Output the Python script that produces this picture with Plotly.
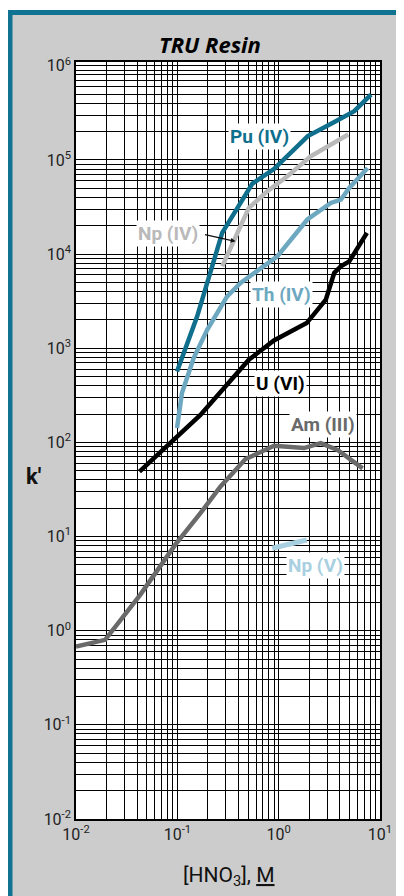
import plotly.graph_objects as go

# ---- data ----
am_x = [0.01, 0.0194, 0.043, 0.068, 0.0955, 0.169, 0.267, 0.471, 0.90, 1.78, 2.6, 3.81, 6.74]
am_y = [0.68, 0.80, 2.4, 4.8, 8.2, 17.7, 34, 66.5, 92, 87, 98, 83, 53]

u_x = [0.0423, 0.169, 0.508, 0.898, 1.89, 2.92, 3.53, 4.11, 4.97, 5.78, 7.43]
u_y = [49, 196, 755, 1210, 1850, 3270, 6300, 7400, 8350, 10700, 16800]

pu_x = [0.0993, 0.157, 0.277, 0.55, 0.898, 1.94, 3.4, 5.57, 8.15]
pu_y = [567, 2180, 16800, 56000, 80000, 179000, 247000, 329000, 494000]

np4_x = [0.277, 0.361, 0.508, 0.773, 1.22, 2.07, 4.86]
np4_y = [7400, 13600, 30900, 46400, 67000, 109000, 186000]

th_x = [0.0993, 0.111, 0.145, 0.197, 0.31, 0.421, 0.97, 1.92, 3.27, 4.11, 4.97, 7.55]
th_y = [142, 334, 787, 1570, 3560, 4930, 9460, 23300, 34900, 37800, 50400, 82200]

np5_x = [0.863, 1.89]
np5_y = [7.5, 9.2]

x_ticks = [0.01, 0.1, 1, 10]
x_ticktext = ["10<sup>-2</sup>", "10<sup>-1</sup>", "10<sup>0</sup>", "10<sup>1</sup>"]
y_ticks = [1e-2, 1e-1, 1, 10, 100, 1e3, 1e4, 1e5, 1e6]
y_ticktext = ["10<sup>-2</sup>", "10<sup>-1</sup>", "10<sup>0</sup>", "10<sup>1</sup>",
              "10<sup>2</sup>", "10<sup>3</sup>", "10<sup>4</sup>", "10<sup>5</sup>", "10<sup>6</sup>"]

# ---- styles ----
C_PU = "#0f6f8d"
C_TH = "#6da8c0"
C_NP4 = "#b9b9b9"
C_NP5 = "#a9d0e1"
C_AM = "#6a6a6a"
C_U = "#000000"
FRAME = "#0f7391"
GRAY = "#cccccc"
FONT = "Roboto"
GRID = "#000"

fig = go.Figure()
series = [
    (am_x, am_y, C_AM, 4.5),
    (u_x, u_y, C_U, 4.5),
    (th_x, th_y, C_TH, 4.5),
    (np4_x, np4_y, C_NP4, 4.5),
    (pu_x, pu_y, C_PU, 4.5),
    (np5_x, np5_y, C_NP5, 5),
]
for xs, ys, col, w in series:
    fig.add_trace(go.Scatter(x=xs, y=ys, mode="lines",
                             line=dict(color=col, width=w), showlegend=False,
                             hoverinfo="skip"))

minor_x = [k * 10.0 ** e for e in range(-2, 1) for k in range(2, 10)]
minor_y = [k * 10.0 ** e for e in range(-2, 6) for k in range(2, 10)] + [1.1e6]

fig.update_xaxes(type="log", range=[-2, 1.0],
                 tickvals=x_ticks, ticktext=x_ticktext,
                 showgrid=True, gridcolor=GRID, gridwidth=1.4,
                 minor=dict(tickvals=minor_x, showgrid=True, gridcolor=GRID, gridwidth=1.4),
                 showline=True, mirror=True, linecolor=GRID, linewidth=1.6,
                 ticks="", tickfont=dict(family=FONT, size=16, color="#222"),
                 zeroline=False)
fig.update_yaxes(type="log", range=[-2, 6.04],
                 tickvals=y_ticks, ticktext=y_ticktext,
                 showgrid=True, gridcolor=GRID, gridwidth=1.4,
                 minor=dict(tickvals=minor_y, showgrid=True, gridcolor=GRID, gridwidth=1.4),
                 showline=True, mirror=True, linecolor=GRID, linewidth=1.6,
                 ticks="", tickfont=dict(family=FONT, size=16, color="#222"),
                 zeroline=False)

shapes = [
    dict(type="rect", xref="paper", yref="paper", x0=-0.2171, x1=1.3, y0=-0.2, y1=1.0654,
         fillcolor=GRAY, line=dict(color=FRAME, width=5), layer="below"),
    dict(type="rect", xref="paper", yref="paper", x0=0, x1=1, y0=0, y1=1,
         fillcolor="white", line=dict(width=0), layer="below"),
]

def lab(text, xl, yl, col, size=19):
    return dict(text="<b>%s</b>" % text, x=xl, y=yl, xref="x", yref="y",
                xanchor="center", yanchor="middle",
                showarrow=False, bgcolor="white", borderpad=1,
                font=dict(family=FONT, size=size, color=col))

annotations = [
    lab("Pu (IV)", -0.188, 5.248, C_PU),
    lab("Np (IV)", -1.089, 4.217, C_NP4),
    lab("Th (IV)", 0.030, 3.569, C_TH),
    lab("U (VI)", 0.020, 2.623, C_U),
    lab("Am (III)", 0.436, 2.187, C_AM),
    lab("Np (V)", 0.366, 0.689, C_NP5),
    dict(text="", x=-0.426, y=4.135, xref="x", yref="y", showarrow=True,
         ax=-32, ay=-7, arrowhead=2, arrowsize=0.8, arrowwidth=1.2, arrowcolor="#111"),
    dict(text="<b><i>TRU Resin</i></b>", x=0.441, y=1.0238, xref="paper", yref="paper",
         xanchor="center", yanchor="middle",
         showarrow=False, font=dict(family="Open Sans", size=22, color="#000")),
    dict(text="<b>k'</b>", x=-0.1414, y=0.4518, xref="paper", yref="paper",
         xanchor="center", yanchor="middle",
         showarrow=False, font=dict(family=FONT, size=22, color="#111")),
    dict(text="[HNO<sub>3</sub>], <u>M</u>", x=0.503, y=-0.0766, xref="paper", yref="paper",
         xanchor="center", yanchor="middle",
         showarrow=False, font=dict(family=FONT, size=21, color="#111")),
]

fig.update_layout(width=404, height=896,
                  margin=dict(l=68, r=32, t=54, b=85),
                  paper_bgcolor="white", plot_bgcolor="white",
                  shapes=shapes, annotations=annotations, showlegend=False)

fig.write_html("out.html")
